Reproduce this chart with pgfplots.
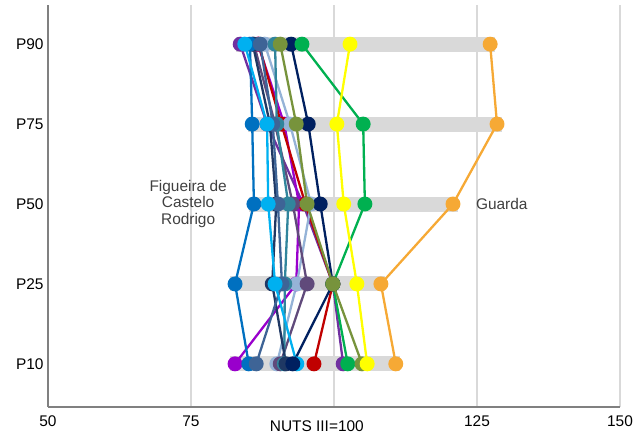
\documentclass[border=0pt]{standalone}
\usepackage{pgfplots}
\pgfplotsset{compat=1.18}
\usepackage{fontspec}
\setmainfont{Liberation Sans}
\definecolor{cblue}{HTML}{0070C0}
\definecolor{corange}{HTML}{F6A935}
\definecolor{cyellow}{HTML}{FFFF00}
\definecolor{cgreen}{HTML}{00B050}
\definecolor{colive}{HTML}{77933C}
\definecolor{cnavy}{HTML}{002060}
\definecolor{cred}{HTML}{C00000}
\definecolor{cpurple}{HTML}{7030A0}
\definecolor{cviolet}{HTML}{9900CC}
\definecolor{ccyan}{HTML}{00B0F0}
\definecolor{csteel}{HTML}{3E6496}
\definecolor{clight}{HTML}{95B3D7}
\definecolor{cpgray}{HTML}{604A7B}
\definecolor{cteal}{HTML}{31859C}
\definecolor{cdark}{HTML}{1F3864}
\definecolor{cbar}{HTML}{D9D9D9}
\definecolor{ctext}{HTML}{404040}
\begin{document}
\begin{tikzpicture}
\begin{axis}[
  scale only axis, width=572bp, height=402bp,
  xmin=50, xmax=150, ymin=0.46, ymax=5.49,
  axis x line*=bottom, axis y line*=left,
  axis line style={color=black!50, line width=1.3bp},
  xtick={50,75,100,125,150}, xticklabels={50,75,,125,150},
  ytick={1,2,3,4,5}, yticklabels={P10,P25,P50,P75,P90},
  major tick length=0pt,
  xmajorgrids, grid style={color=black!15, line width=1.5bp},
  tick label style={font=\fontsize{15.5}{17}\selectfont, text=black},
  xticklabel style={yshift=-5bp},
  yticklabel style={xshift=-1bp},
  /pgf/number format/assume math mode=true,
  clip=false,
  every axis plot/.append style={line width=2.3bp, mark=*, mark size=6.3bp, mark options={line width=0.2bp}},
]
% range bars
\addplot[cbar, line width=15bp, mark=none] coordinates {(82.8,5) (128.1,5)};
\addplot[cbar, line width=15bp, mark=none] coordinates {(84.9,4) (129.3,4)};
\addplot[cbar, line width=15bp, mark=none] coordinates {(85.2,3) (121.6,3)};
\addplot[cbar, line width=15bp, mark=none] coordinates {(81.9,2) (109.0,2)};
\addplot[cbar, line width=15bp, mark=none] coordinates {(81.9,1) (111.6,1)};
% series
\addplot[cpurple, mark options={fill=cpurple}] coordinates {(101.6,1) (99.8,2) (94.6,3) (88.3,4) (83.6,5)};
\addplot[cviolet, mark options={fill=cviolet}] coordinates {(82.7,1) (93.4,2) (93.9,3) (91.3,4) (86.7,5)};
\addplot[cred, mark options={fill=cred}] coordinates {(96.5,1) (99.8,2) (95.0,3) (90.8,4) (86.8,5)};
\addplot[clight, mark options={fill=clight}] coordinates {(90.0,1) (93.5,2) (96.0,3) (92.3,4) (87.9,5)};
\addplot[cpgray, mark options={fill=cpgray}] coordinates {(90.6,1) (95.3,2) (92.8,3) (89.7,4) (86.0,5)};
\addplot[cteal, mark options={fill=cteal}] coordinates {(91.3,1) (91.4,2) (92.0,3) (90.0,4) (89.7,5)};
\addplot[cdark, mark options={fill=cdark}] coordinates {(91.6,1) (89.2,2) (89.9,3) (88.8,4) (85.8,5)};
\addplot[cblue, mark options={fill=cblue}] coordinates {(85.1,1) (82.7,2) (86.0,3) (85.7,4) (85.3,5)};
\addplot[csteel, mark options={fill=csteel}] coordinates {(86.4,1) (90.9,2) (90.2,3) (89.3,4) (87.1,5)};
\addplot[ccyan, mark options={fill=ccyan}] coordinates {(93.5,1) (89.7,2) (88.5,3) (88.3,4) (84.4,5)};
\addplot[cnavy, mark options={fill=cnavy}] coordinates {(92.8,1) (99.8,2) (97.6,3) (95.5,4) (92.5,5)};
\addplot[cgreen, mark options={fill=cgreen}] coordinates {(102.4,1) (99.8,2) (105.4,3) (105.1,4) (94.4,5)};
\addplot[colive, mark options={fill=colive}] coordinates {(104.9,1) (99.8,2) (95.3,3) (93.4,4) (90.6,5)};
\addplot[cyellow, mark options={fill=cyellow}] coordinates {(105.8,1) (104.0,2) (101.7,3) (100.5,4) (102.8,5)};
\addplot[corange, mark options={fill=corange}] coordinates {(110.8,1) (108.2,2) (120.8,3) (128.5,4) (127.3,5)};
% labels
\node[align=center, text=ctext, font=\fontsize{15.5}{17}\selectfont] at (axis cs:74.5,3) {Figueira de\\Castelo\\Rodrigo};
\node[anchor=west, text=ctext, font=\fontsize{15.5}{17}\selectfont, inner sep=0pt] at (axis cs:124.8,3) {Guarda};
\node[anchor=north, text=black, font=\fontsize{15.5}{17}\selectfont, inner sep=0pt] at (axis cs:97,0.46) [yshift=-14bp] {NUTS III=100};
\end{axis}
\path (current axis.south west) ++(-48bp,-32bp) rectangle ([xshift=24bp,yshift=5bp]current axis.north east);
\end{tikzpicture}
\end{document}
